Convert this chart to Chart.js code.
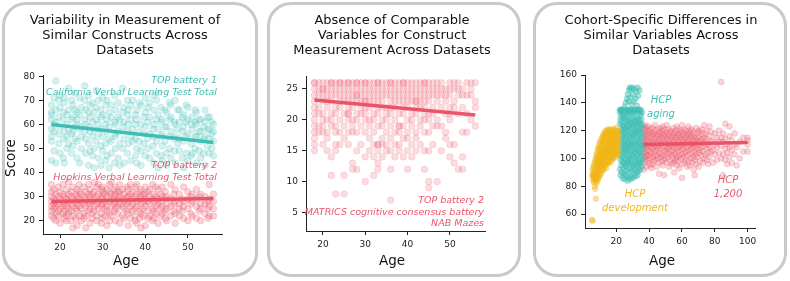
<!DOCTYPE html>
<html lang="en">
<head>
<meta charset="UTF-8">
<title>Measurement differences across datasets</title>
<script src="https://cdn.jsdelivr.net/npm/chart.js"></script>
<style>
  body { margin: 0; width: 790px; height: 281px; background: #fff; position: relative; overflow: hidden;
         font-family: 'DejaVu Sans', sans-serif; color: #111; }
  .panel { position: absolute; top: 2px; height: 275px; box-sizing: border-box;
           border: 3px solid #c9c9c9; border-radius: 24px; }
  canvas { position: absolute; top: 0; }
  .title { position: absolute; top: 13px; width: 260px; text-align: center; font-size: 13px; line-height: 14.8px; }
  .axt { position: absolute; font-size: 13.5px; line-height: 16px; width: 60px; text-align: center; }
  .note { position: absolute; font-style: italic; font-size: 9.5px; line-height: 11.5px; white-space: nowrap; }
  .note.r { text-align: right; }
  .note.c { text-align: center; width: 100px; font-size: 10px; line-height: 14px; }
</style>
</head>
<body>
<div class="panel" style="left:2px; width:256px;"></div>
<div class="panel" style="left:267px; width:254px;"></div>
<div class="panel" style="left:533px; width:254px;"></div>

<canvas id="c1" width="262" height="281" style="left:0px"></canvas>
<canvas id="c2" width="262" height="281" style="left:262px"></canvas>
<canvas id="c3" width="263" height="281" style="left:527px"></canvas>

<div class="title" style="left:-5px">Variability in Measurement of<br>Similar Constructs Across<br>Datasets</div>
<div class="title" style="left:262px">Absence of Comparable<br>Variables for Construct<br>Measurement Across Datasets</div>
<div class="title" style="left:531px">Cohort-Specific Differences in<br>Similar Variables Across<br>Datasets</div>

<div class="axt" style="left:-20px; top:150px; transform: rotate(-90deg);">Score</div>
<div class="axt" style="left:96px; top:252px;">Age</div>
<div class="axt" style="left:362px; top:252px;">Age</div>
<div class="axt" style="left:632px; top:252px;">Age</div>

<div class="note r" style="right:573px; top:74px; color:rgb(62,190,180)">TOP battery 1<br>California Verbal Learning Test Total</div>
<div class="note r" style="right:573px; top:159px; color:rgb(236,84,104)">TOP battery 2<br>Hopkins Verbal Learning Test Total</div>
<div class="note r" style="right:306px; top:194px; color:rgb(236,84,104)">TOP battery 2<br>MATRICS cognitive consensus battery<br>NAB Mazes</div>
<div class="note c" style="left:611px; top:93px; color:rgb(62,190,180)">HCP<br>aging</div>
<div class="note c" style="left:585px; top:187px; color:rgb(241,181,20)">HCP<br>development</div>
<div class="note c" style="left:678px; top:173px; color:rgb(236,84,104)">HCP<br>1,200</div>

<script>
// panel 1: age -> scores, TOP battery 1 (CVLT total)
const cvltRows = [
  [18,[68,65,62,58,55,53,45,64]],[18.6,[71,60,57,49]],[19,[78,66,61,44]],[19.7,[70,63,56,52]],
  [20,[72,67,59,48]],[20.8,[65,62,54,46]],[21,[71,69,57,44]],[21.6,[64,60,55,50]],
  [22,[75,66,58,52]],[22.7,[70,62,56,48]],[23,[68,63,57,51]],[23.5,[73,66,59,54]],
  [24,[65,60,53,46,62]],[24.6,[71,64,58,44]],[25,[67,59,55,50]],[25.8,[76,70,62,57]],
  [26,[66,60,54,48]],[26.7,[72,65,59,52,43]],[27,[68,63,57,49]],[27.6,[69,61,55,47]],
  [28,[65,58,50,42]],[28.5,[74,67,62,53]],[29,[70,60,56,46]],[29.6,[66,63,58,51,43]],
  [30,[71,64,55,49]],[30.7,[68,60,52,45]],[31,[70,62,57,47]],[31.5,[65,59,54,42]],
  [32,[68,63,53,48]],[32.8,[72,61,56,44]],[33,[66,60,55,50]],[33.6,[69,63,57,46]],
  [34,[62,52,43]],[34.7,[75,65,59,50]],[35,[67,61,54,44]],[35.8,[70,64,57,48]],
  [36,[66,60,52]],[36.6,[68,62,55,45]],[37,[70,58,53]],[37.7,[64,60,54,47]],
  [38,[66,62,50,44]],[38.6,[69,57,53]],[39,[68,60,49,43]],[39.7,[63,56,52]],
  [40,[71,65,59,47]],[40.6,[67,61,54,50]],[41,[69,63,56,46]],[41.8,[72,58,51]],
  [42,[66,60,55,44]],[42.6,[70,62,53,48]],[43,[73,64,58,42]],[43.7,[67,61,55,47]],
  [44,[62,56,51,45]],[44.6,[66,59,53]],[45,[65,59,48,43]],[45.7,[69,62,55,50]],
  [46,[68,63,57,46]],[46.8,[61,54,49]],[47,[70,60,55,44]],[47.6,[66,58,52]],
  [48,[66,61,54,49]],[48.7,[63,57,46]],[49,[64,59,53,42]],[49.6,[68,61,55,48]],
  [50,[67,62,56,45]],[50.8,[60,52,47]],[51,[63,58,48]],[51.7,[66,61,55,50]],
  [52,[65,60,55,44]],[52.6,[62,57,49]],[53,[62,57,53,46]],[53.7,[59,54,48]],
  [54,[66,61,55,43]],[54.6,[63,58,51]],[55,[63,58,54,48]],[55.6,[61,56,50]],[56,[60,57,53,47]]
];
// panel 1: TOP battery 2 (HVLT total)
const hvltRows = [
  [18,[35,32,30,28,26,24,22]],[18.5,[33,29,27,25,21]],[19,[31,28,26,23,20]],[19.6,[34,30,27,24,22]],
  [20,[32,29,25,19]],[20.7,[35,31,28,26,23]],[21,[30,27,24,21]],[21.5,[33,29,26,22,20]],
  [22,[36,31,28,25,23]],[22.6,[32,30,27,24,20]],[23,[34,29,26,22,17]],[23.7,[31,28,25,21]],
  [24,[33,30,27,24,18]],[24.5,[35,32,29,26,22]],[25,[31,28,25,20]],[25.6,[34,30,27,23,21]],
  [26,[32,29,26,22,17]],[26.7,[35,31,28,24]],[27,[33,30,27,25,19]],[27.5,[31,28,23,21]],
  [28,[36,32,29,26,24]],[28.6,[34,30,27,22,20]],[29,[35,31,28,25]],[29.7,[33,29,26,23,19]],
  [30,[34,32,30,27,21]],[30.5,[31,28,25,22]],[31,[33,30,26,24,18]],[31.6,[35,32,28,23,20]],
  [32,[36,31,29,26,22]],[32.7,[33,30,27,24]],[33,[34,31,28,25,20]],[33.5,[32,29,26,23]],
  [34,[35,32,30,27,19]],[34.6,[33,29,26,22]],[35,[31,28,25,21]],[35.7,[34,30,27,24]],
  [36,[33,30,28,23,18]],[36.5,[35,31,26,21]],[37,[32,29,27,24]],[37.6,[34,30,25,22,20]],
  [38,[35,31,28,26,19]],[38.7,[32,29,24,21]],[39,[33,30,27,23,17]],[39.5,[31,28,25,22]],
  [40,[34,31,29,26,18]],[40.6,[32,28,24,21]],[41,[33,30,27,22]],[41.7,[35,29,25,20]],
  [42,[31,28,24,21]],[42.5,[34,30,26,23]],[43,[33,29,27,19]],[43.6,[31,28,25,22]],
  [44,[34,30,26,23]],[44.7,[32,29,24,21]],[45,[30,27,25,20]],[46,[35,29,26,22]],
  [46.7,[31,27,24]],[47,[33,28,23,19]],[48,[31,27,25,22]],[48.6,[29,24]],
  [49,[34,28,26,21]],[50,[32,29,25,20]],[50.7,[30,27,23]],[51,[31,28,22]],
  [52,[33,29,26,21]],[52.6,[30,24]],[53,[31,27,25,20]],[54,[30,27,23]],
  [54.7,[28,25,21]],[55,[35,29,26,22]],[56,[31,28,25,22]]
];
const cvltFit = [[18, 60], [56, 52.5]];
const hvltFit = [[18, 28], [56, 29.2]];

// panel 2: NAB Mazes (integer scores)
const mazesRows = [
  [18,[26,26,25,24,23,22,21,20,19,18,17,16,15]],[19,[26,25,24,22,21,19,18]],[20,[26,25,25,24,23,21,20,19,18,16]],
  [21,[26,25,24,23,22,20,18,17,15]],[22,[26,26,25,24,23,21,20,19,14,11]],[23,[26,25,24,22,21,19,18,16,15,8]],
  [24,[26,26,25,24,23,22,20,18,16]],[25,[26,25,24,23,21,19,17,11,8]],[26,[26,26,25,24,23,22,21,21,20,18,16]],
  [27,[26,25,24,23,22,20,19,18,13,12]],[28,[26,26,25,24,24,23,21,20,18,15,12]],[29,[26,25,24,23,22,21,19,16]],
  [30,[26,26,25,24,23,23,22,21,20,18,14,10]],[31,[26,25,24,23,22,20,19,17,15]],[32,[26,25,24,23,21,20,18,16,14,11]],
  [33,[26,26,25,24,23,22,21,19,16,16,15,13,12]],[34,[26,25,24,23,22,20,19,17,16,14]],[35,[26,25,24,22,21,20,18,16,15]],
  [36,[26,26,25,24,23,22,21,19,17,15,12,7]],[37,[26,25,24,23,22,20,18,16,14]],[38,[26,25,24,23,21,19,19,18,16,15]],
  [39,[26,26,25,24,23,22,21,19,17,14]],[40,[26,25,24,23,22,20,18,17,15,12]],[41,[26,25,24,23,21,20,19,16,14]],
  [42,[26,25,24,23,23,22,21,18,17,15]],[43,[26,25,24,23,22,20,19,16]],[44,[26,26,25,24,23,22,21,20,18,15,12]],
  [45,[26,25,24,23,21,20,18,15,10,9]],[46,[26,25,24,22,21,19,16]],[47,[26,25,24,23,20,19,10]],
  [48,[26,25,24,22,19,15]],[49,[25,24,23,21,18,17]],[50,[26,25,24,22,21,20,16,14]],
  [51,[26,25,23,22,16,13]],[52,[26,25,24,21,12]],[53,[25,24,22,18,14,12]],
  [54,[26,24,21,18]],[55,[26,25,24,20]],[56,[26,23,22,19]]
];
const mazesFit = [[18, 23.2], [56, 20.8]];

// panel 3: three cohorts
const hcpDevRows = [
  [5.3,[56,88]],[5.6,[55,87,92]],[6,[84,90,86,94]],[6.4,[83,89,95,88]],[6.8,[80,86,91,97]],
  [7.2,[78,85,93,99,89]],[7.6,[71,84,88,96,101]],[8,[82,87,92,98,103,90]],[8.4,[85,89,94,100,105]],
  [8.8,[84,91,96,102,107,88]],[9.2,[86,92,97,101,108]],[9.6,[88,93,99,104,110,95]],
  [10,[87,91,96,102,106,112]],[10.4,[90,94,98,105,109,100]],[10.8,[89,95,101,107,113]],
  [11.2,[92,96,100,104,111,115]],[11.6,[91,97,103,108,114,99]],[12,[93,98,102,106,112,117]],
  [12.4,[92,96,101,107,110,116]],[12.8,[94,99,104,109,115,119]],[13.2,[95,100,103,108,113,118]],
  [13.6,[96,101,105,111,116,120]],[14,[93,98,104,107,112,118]],[14.4,[97,102,106,110,115,119]],
  [14.8,[98,100,105,109,114,121]],[15.2,[96,103,107,112,117,120]],[15.6,[99,104,108,113,118]],
  [16,[97,101,106,111,116,121]],[16.4,[100,105,110,114,119]],[16.8,[98,103,108,112,117,120]],
  [17.2,[101,106,109,115,118]],[17.6,[99,104,110,113,119,121]],[18,[102,107,111,116,120]],
  [18.4,[100,105,109,114,118]],[18.8,[103,108,112,117,121]],[19.2,[101,106,110,115,119]],
  [19.6,[104,108,113,116,120]],[20,[102,107,111,117,122]],[20.4,[105,109,114,118]],
  [20.8,[103,110,115,119]],[21.2,[106,111,116,120]],[21.6,[104,112,117]]
];
const hcpAgingRows = [
  [22.2,[92,103,114,125,133,135]],[22.6,[88,99,108,119,128,135]],[23,[95,106,112,121,130,134]],
  [23.4,[90,101,110,117,126,135]],[23.8,[86,97,105,116,124,132]],[24.2,[93,102,111,120,129,135]],
  [24.6,[89,98,107,115,123,133]],[25,[85,96,104,113,122,131,137]],[25.4,[91,100,109,118,127,135]],
  [25.8,[87,95,106,114,121,130,140]],[26.2,[94,103,110,119,128,134]],[26.6,[88,97,108,116,125,135,143]],
  [27,[84,99,105,112,123,132,146]],[27.4,[92,101,111,120,127,135,141]],[27.8,[86,96,107,117,124,133,149]],
  [28.2,[90,100,109,115,126,135,151]],[28.6,[85,98,104,113,122,131,144]],[29,[93,102,110,119,128,135,150]],
  [29.4,[87,97,106,116,125,134,139]],[29.8,[91,103,112,121,129,135,151]],[30.2,[86,95,108,117,124,132,146]],
  [30.6,[94,101,110,114,123,135,141]],[31,[89,99,105,118,127,133,150]],[31.4,[92,104,111,120,126,135]],
  [31.8,[87,96,107,116,125,134,143]],[32.2,[95,100,109,119,128,135,148]],[32.6,[90,102,113,122,130,138]],
  [33,[88,98,106,115,124,135,151]],[33.4,[93,103,111,120,129,135,145]],[33.8,[91,97,108,117,126,134]],
  [34.2,[96,105,112,121,127,135,149]],[34.6,[92,100,110,118,125,133]],[35,[97,104,114,122,131,135]],
  [35.4,[94,102,109,119,128]],[35.8,[99,107,115,124,133]]
];
const hcp1200Rows = [
  [36.2,[96,104,109,113,118,123,100]],[36.9,[92,107,111,116,121]],[37.5,[98,101,105,110,114,119,124]],
  [38.3,[94,103,108,112,117,122,102]],[39.1,[99,106,110,115,120]],[39.8,[97,102,109,113,118,123]],
  [40.6,[95,100,105,111,116,121]],[41.4,[93,104,108,114,119]],[42.2,[101,107,112,117,122,96]],
  [42.9,[98,103,109,113,118]],[43.7,[99,105,110,115,120,124]],[44.5,[94,102,108,112,117]],
  [45.2,[100,106,111,116,121]],[46.1,[89,97,104,109,114,119]],[46.8,[101,107,112,117,122]],
  [47.6,[98,103,110,115,120]],[48.3,[95,102,108,113,118,123]],[49.2,[88,99,105,111,116,121]],
  [49.9,[100,106,112,117]],[50.7,[97,104,109,114,119,124]],[51.5,[101,107,111,116,121]],
  [52.2,[94,103,108,113,118]],[53.1,[98,105,110,115,120]],[53.8,[96,102,109,114,119]],
  [54.6,[100,106,111,116,122]],[55.3,[90,97,104,108,113,118]],[56.2,[99,103,110,115,120]],
  [56.9,[95,101,107,112,117,123]],[57.7,[98,105,111,116,121]],[58.4,[93,102,108,113,118]],
  [59.3,[100,106,110,115,120]],[60.1,[86,96,103,109,114,119,124]],[60.8,[101,107,112,117]],
  [61.6,[97,104,110,115,121]],[62.4,[99,105,111,116,120]],[63.2,[94,102,108,113,118]],
  [63.9,[98,106,112,117,123]],[64.7,[95,103,109,114,119]],[65.5,[100,107,111,116,121]],
  [66.3,[97,104,110,115,120]],[67.1,[92,101,108,113,118]],[67.8,[88,99,105,111,116]],
  [68.6,[96,103,109,114,122]],[69.4,[101,107,112,118]],[70.2,[94,104,110,115,120]],
  [71,[98,106,113,119]],[71.9,[102,108,114,121]],[72.7,[97,105,111,117]],
  [73.5,[100,109,115,124]],[74.3,[103,112,118]],[75.1,[99,107,114,120]],[76,[96,104,110]],
  [76.8,[101,108,116,123]],[77.9,[105,112,119]],[78.8,[97,106,113]],[80.1,[103,110,118]],
  [81.3,[99,108,115]],[82.6,[104,112,120]],[83.9,[155,100,109,115]],[85.1,[88,103,112,118]],
  [86.4,[99,107,114,125]],[87.6,[96,104,110]],[88.9,[101,108,116,123]],[90.3,[97,106,113]],
  [92.1,[103,110,118]],[93.4,[95,108]],[95.2,[100,112]],[97.3,[105,115]],[100,[105,110,113,115]]
];
const hcp1200Fit = [[36, 110], [100, 111.5]];

const p1XTicks = [20, 30, 40, 50], p1YTicks = [20, 30, 40, 50, 60, 70, 80];
const p2XTicks = [20, 30, 40, 50], p2YTicks = [5, 10, 15, 20, 25];
const p3XTicks = [20, 40, 60, 80, 100], p3YTicks = [60, 80, 100, 120, 140, 160];

const TEAL = '62,190,180', RED = '236,84,104', YELLOW = '241,181,20';

function toPoints(rows) {
  const out = [];
  rows.forEach(([x, ys]) => ys.forEach(y => out.push({ x: x, y: y })));
  return out;
}
function toLine(pairs) {
  return pairs.map(([x, y]) => ({ x: x, y: y }));
}
function dots(rows, rgb, a, r) {
  return { data: toPoints(rows), pointRadius: r, pointBackgroundColor: 'rgba(' + rgb + ',' + a + ')',
           pointBorderColor: 'rgba(' + rgb + ',' + Math.min(1, a + 0.08) + ')', pointBorderWidth: 0.6 };
}
function fit(pairs, rgb) {
  return { type: 'line', data: toLine(pairs), showLine: true, borderColor: 'rgb(' + rgb + ')',
           borderWidth: 3.5, pointRadius: 0, fill: false };
}
function axis(min, max, ticks, size) {
  return {
    type: 'linear', min: min, max: max,
    afterBuildTicks: s => { s.ticks = ticks.map(v => ({ value: v })); },
    afterFit: s => { if (s.isHorizontal()) s.height = 20; else s.width = size; },
    ticks: { color: '#222', font: { size: 9 }, padding: 4, maxRotation: 0, autoSkip: false },
    grid: { display: true, drawOnChartArea: false, drawTicks: true, tickLength: 4, color: '#222' },
    border: { display: true, color: '#222', width: 1 }
  };
}

Chart.defaults.font.family = "'DejaVu Sans', sans-serif";

function makeChart(id, datasets, pad, xs, ys) {
  new Chart(document.getElementById(id), {
    type: 'scatter',
    data: { datasets: datasets },
    options: {
      responsive: false, animation: false,
      layout: { padding: pad },
      plugins: { legend: { display: false }, tooltip: { enabled: false } },
      scales: { x: xs, y: ys }
    }
  });
}

makeChart('c1',
  [dots(cvltRows, TEAL, 0.22, 3.3), dots(hvltRows, RED, 0.25, 3.3), fit(cvltFit, TEAL), fit(hvltFit, RED)],
  { left: 0, top: 75, right: 40, bottom: 27 },
  axis(16, 58, p1XTicks), axis(14.5, 80.5, p1YTicks, 43));

makeChart('c2',
  [dots(mazesRows, RED, 0.2, 3.3), fit(mazesFit, RED)],
  { left: 0, top: 76, right: 39, bottom: 30 },
  axis(16, 58.3, p2XTicks), axis(2, 27.1, p2YTicks, 44));

makeChart('c3',
  [dots(hcpDevRows, YELLOW, 0.4, 2.7), dots(hcpAgingRows, TEAL, 0.45, 2.8), dots(hcp1200Rows, RED, 0.25, 2.9), fit(hcp1200Fit, RED)],
  { left: 0, top: 75, right: 35, bottom: 33 },
  axis(1, 104.5, p3XTicks), axis(50, 160, p3YTicks, 58));
</script>
</body>
</html>
